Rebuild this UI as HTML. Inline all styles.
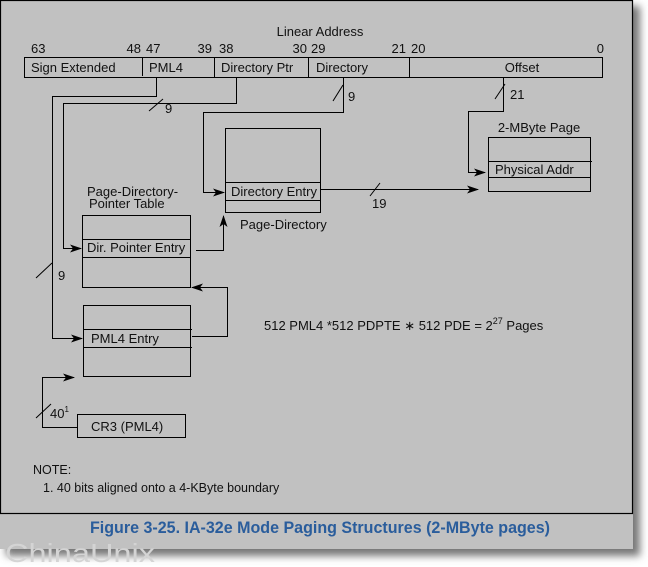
<!DOCTYPE html>
<html><head><meta charset="utf-8"><style>
html,body{margin:0;padding:0;background:#fff;width:648px;height:567px;overflow:hidden}
svg{display:block;font-family:"Liberation Sans",sans-serif}
</style></head><body>
<svg width="648" height="567" viewBox="0 0 648 567" xmlns="http://www.w3.org/2000/svg">
<defs>
<marker id="a" markerWidth="12" markerHeight="8" refX="11" refY="4" orient="auto" markerUnits="userSpaceOnUse"><path d="M0,0 L12,4 L0,8 L3,4 Z" fill="#000"/></marker>
<filter id="sh" x="-5%" y="-5%" width="115%" height="115%"><feGaussianBlur stdDeviation="4"/></filter>
</defs>
<rect x="6" y="6" width="634" height="550" fill="#777" filter="url(#sh)"/>
<rect x="0" y="0" width="633" height="549" fill="#c1c1c1"/>
<rect x="0.5" y="0.5" width="632" height="513" fill="none" stroke="#000" stroke-width="1.2"/>
<g font-size="13" fill="#111">
<text x="320" y="36" text-anchor="middle">Linear Address</text>
<text x="31" y="53">63</text><text x="141" y="53" text-anchor="end">48</text><text x="146" y="53">47</text>
<text x="212" y="53" text-anchor="end">39</text><text x="219" y="53">38</text>
<text x="307" y="53" text-anchor="end">30</text><text x="311" y="53">29</text>
<text x="406" y="53" text-anchor="end">21</text><text x="411" y="53">20</text><text x="604" y="53" text-anchor="end">0</text>
</g>
<g fill="none" stroke="#000" stroke-width="1">
<rect x="24.5" y="57.5" width="578" height="20"/>
<line x1="142.5" y1="57" x2="142.5" y2="76"/><line x1="214.5" y1="57" x2="214.5" y2="78"/>
<line x1="308.5" y1="57" x2="308.5" y2="78"/><line x1="409.5" y1="57" x2="409.5" y2="78"/>
<rect x="225.5" y="128.5" width="95" height="84"/><line x1="225" y1="182.5" x2="321" y2="182.5"/><line x1="225" y1="200.5" x2="321" y2="200.5"/>
<rect x="488.5" y="137.5" width="102" height="54"/><line x1="488" y1="161.5" x2="592" y2="161.5"/><line x1="488" y1="177.5" x2="591" y2="177.5"/>
<rect x="82.5" y="215.5" width="108" height="72"/><line x1="82" y1="239.5" x2="191" y2="239.5"/><line x1="82" y1="257.5" x2="191" y2="257.5"/>
<rect x="83.5" y="305.5" width="107" height="71"/><line x1="83" y1="329.5" x2="192" y2="329.5"/><line x1="83" y1="347.5" x2="192" y2="347.5"/>
<rect x="77.5" y="414.5" width="108" height="23"/>
<polyline points="156.5,78 156.5,96.5 52.5,96.5 52.5,338.5 82,338.5" marker-end="url(#a)"/>
<polyline points="236.5,78 236.5,103.5 63.5,103.5 63.5,248.5 81,248.5" marker-end="url(#a)"/>
<polyline points="343.5,78 343.5,112.5 203.5,112.5 203.5,192.5 224,192.5" marker-end="url(#a)"/>
<polyline points="503.5,78 503.5,111.5 468.5,111.5 468.5,172.5 485,172.5" marker-end="url(#a)"/>
<polyline points="321,189.5 478,189.5" marker-end="url(#a)"/>
<polyline points="196,250.5 223.5,250.5 223.5,216" marker-end="url(#a)"/>
<polyline points="192,336.5 227.5,336.5 227.5,287.5 192,287.5" marker-end="url(#a)"/>
<polyline points="77,427.5 42.5,427.5 42.5,377.5 74,377.5" marker-end="url(#a)"/>
<line x1="149" y1="111" x2="163" y2="99"/>
<line x1="333" y1="101" x2="343" y2="85"/>
<line x1="495" y1="99" x2="505" y2="84"/>
<line x1="370" y1="196" x2="380" y2="183"/>
<line x1="36" y1="278" x2="52" y2="263"/>
<line x1="36" y1="418" x2="51" y2="404"/>
</g>
<g font-size="13" fill="#111">
<text x="31" y="72">Sign Extended</text><text x="149" y="72">PML4</text>
<text x="221" y="72">Directory Ptr</text><text x="316" y="72">Directory</text>
<text x="522" y="72" text-anchor="middle">Offset</text>
<text x="165" y="113">9</text><text x="348" y="101">9</text><text x="510" y="99">21</text>
<text x="372" y="208">19</text><text x="58" y="280">9</text>
<text x="50" y="418">40<tspan font-size="8" dy="-6">1</tspan></text>
<text x="539" y="132" text-anchor="middle">2-MByte Page</text>
<text x="495" y="174">Physical Addr</text>
<text x="231" y="196">Directory Entry</text>
<text x="240" y="229">Page-Directory</text>
<text x="87" y="196">Page-Directory-</text>
<text x="89" y="208">Pointer Table</text>
<text x="87" y="252">Dir. Pointer Entry</text>
<text x="91" y="343">PML4 Entry</text>
<text x="91" y="431">CR3 (PML4)</text>
<text x="264" y="330">512 PML4 *512 PDPTE ∗ 512 PDE = 2<tspan font-size="9" dy="-6">27</tspan><tspan dy="6"> Pages</tspan></text>
<text x="33" y="474" font-size="12.5">NOTE:</text>
<text x="43" y="492" font-size="12.5">1. 40 bits aligned onto a 4-KByte boundary</text>
</g>
<text x="320" y="533" text-anchor="middle" font-size="16.5" font-weight="bold" fill="#2a5d9c" textLength="460" lengthAdjust="spacingAndGlyphs">Figure 3-25.  IA-32e Mode Paging Structures (2-MByte pages)</text>
<text x="5" y="562" font-size="26" fill="#d4d4d4" textLength="150" lengthAdjust="spacingAndGlyphs">ChinaUnix</text>
</svg>
</body></html>
